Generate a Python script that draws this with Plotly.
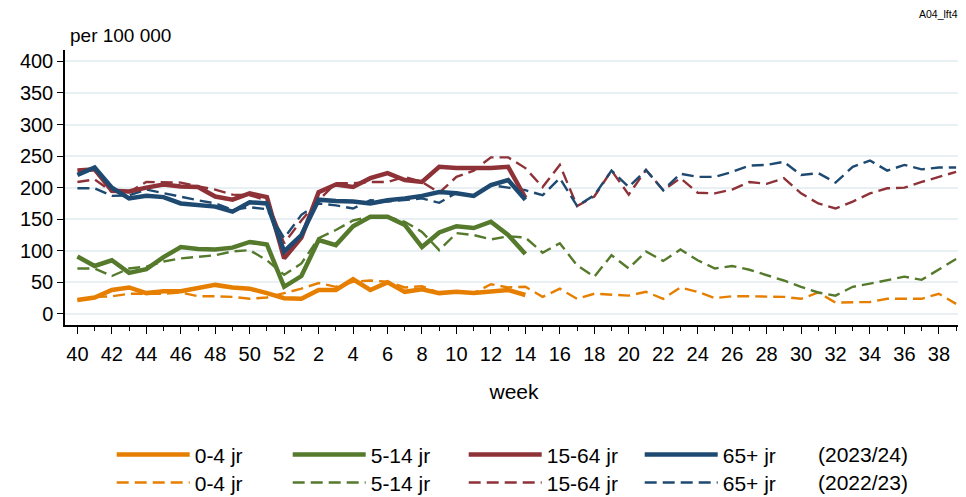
import plotly.graph_objects as go

# weeks 40-52 of the first year, then weeks 1-39
weeks = list(range(40, 53)) + list(range(1, 40))

groups = ['0-4 jr', '5-14 jr', '15-64 jr', '65+ jr']
colors = ['#E67F00', '#557A2C', '#8E3238', '#1E4A72']

# season 2023/24 (week 40 up to week 14)
cur_0_4 = [22, 26, 38, 42, 33, 36, 36, 41, 46, 42, 40, 33, 25, 24, 38, 38, 55, 38,
           50, 35, 39, 33, 35, 33, 35, 38, 30]
cur_5_14 = [91, 76, 85, 65, 71, 90, 106, 103, 102, 105, 114, 110, 43, 60, 117, 109,
            139, 154, 154, 141, 106, 129, 139, 136, 146, 125, 95]
cur_15_64 = [227, 229, 195, 194, 200, 205, 202, 201, 186, 181, 191, 185, 88, 121, 193,
             205, 201, 215, 223, 212, 209, 233, 231, 231, 231, 233, 184]
cur_65 = [220, 232, 200, 183, 187, 185, 175, 172, 170, 162, 177, 175, 99, 125, 181,
          179, 178, 175, 180, 183, 187, 193, 191, 187, 204, 212, 181]

# season 2022/23 (full year)
prev_0_4 = [22, 27, 28, 32, 32, 32, 34, 28, 28, 27, 24, 26, 33, 40,
            49, 43, 51, 53, 51, 42, 44, 33, 34, 33, 47, 42, 43, 27,
            40, 24, 32, 30, 29, 35, 24, 42, 35, 25, 28, 28, 27, 27,
            24, 34, 18, 19, 19, 24, 24, 24, 32, 16]
prev_5_14 = [72, 72, 60, 72, 75, 83, 88, 91, 93, 99, 101, 85, 62, 80,
             120, 133, 148, 154, 154, 146, 130, 101, 128, 125, 118, 123, 121, 97,
             112, 77, 59, 93, 72, 99, 84, 102, 85, 72, 76, 70, 62, 53,
             43, 34, 29, 43, 48, 53, 59, 54, 71, 87]
prev_15_64 = [209, 213, 194, 193, 209, 209, 208, 202, 197, 189, 188, 180, 112, 148,
              180, 207, 207, 209, 209, 217, 209, 192, 217, 227, 248, 248, 231, 201,
              236, 171, 186, 227, 189, 228, 196, 215, 192, 191, 197, 209, 206, 215,
              191, 175, 167, 178, 191, 199, 200, 209, 217, 225]
prev_65 = [199, 199, 187, 188, 197, 191, 186, 180, 175, 165, 169, 166, 120, 157,
           175, 172, 167, 180, 178, 180, 183, 176, 192, 186, 204, 200, 196, 188,
           215, 171, 188, 227, 201, 228, 196, 222, 217, 217, 225, 235, 236, 241,
           220, 223, 208, 233, 243, 227, 236, 229, 232, 232]

current = [cur_0_4, cur_5_14, cur_15_64, cur_65]
previous = [prev_0_4, prev_5_14, prev_15_64, prev_65]

xpos = list(range(len(weeks)))
major = [i for i, w in enumerate(weeks) if w % 2 == 0]
font = 'Liberation Sans, Arial, sans-serif'

fig = go.Figure()

for name, col, vals in zip(groups, colors, previous):
    fig.add_trace(go.Scatter(
        x=xpos[:len(vals)], y=vals, name=name, mode='lines',
        line=dict(color=col, width=2.4, dash='12px,6px'),
        legend='legend2',
    ))

for name, col, vals in zip(groups, colors, current):
    fig.add_trace(go.Scatter(
        x=xpos[:len(vals)], y=vals, name=name, mode='lines',
        line=dict(color=col, width=4.5),
        legend='legend',
    ))

legend_style = dict(
    orientation='h', x=0.052, xanchor='left', yanchor='middle', yref='container',
    font=dict(family=font, size=21, color='#000'),
    itemwidth=73, entrywidth=88, traceorder='normal', bgcolor='rgba(0,0,0,0)',
)

# the page body adds an 8px offset, so the figure is a bit smaller than the window
fig.update_layout(
    width=958, height=489,
    margin=dict(l=57, r=3, t=42, b=172),
    plot_bgcolor='white', paper_bgcolor='white',
    font=dict(family=font, color='#000'),
    legend=dict(y=0.086, **legend_style),
    legend2=dict(y=0.029, **legend_style),
    xaxis=dict(
        range=[-0.72, 51.4],
        tickmode='array', tickvals=major, ticktext=[str(weeks[i]) for i in major],
        ticks='outside', ticklen=7, tickwidth=1.2, tickcolor='#000',
        minor=dict(tickmode='array', tickvals=xpos, ticks='outside', ticklen=4,
                   tickwidth=1.2, tickcolor='#000', showgrid=False),
        showline=True, linecolor='#000', linewidth=1.5,
        showgrid=False, zeroline=False,
        tickfont=dict(size=20), ticklabelstandoff=3,
        title=dict(text='week', font=dict(size=21), standoff=21),
    ),
    yaxis=dict(
        range=[-17.5, 418],
        tickvals=[0, 50, 100, 150, 200, 250, 300, 350, 400],
        ticks='outside', ticklen=6, tickwidth=1.2, tickcolor='#000',
        showline=True, linecolor='#000', linewidth=1.5,
        gridcolor='#E8F0F3', gridwidth=1.6, zeroline=False,
        tickfont=dict(size=20),
    ),
    annotations=[
        dict(text='per 100 000', xref='paper', yref='paper', x=0.003, y=1.0,
             xanchor='left', yanchor='bottom', yshift=2, showarrow=False,
             font=dict(size=19)),
        dict(text='A04_lft4', xref='paper', yref='paper', x=0.997, y=1.0,
             xanchor='right', yanchor='bottom', yshift=28, showarrow=False,
             font=dict(size=10.5)),
        dict(text='(2023/24)', xref='paper', yref='paper', x=0.836, y=-0.4727,
             xanchor='left', yanchor='middle', showarrow=False,
             font=dict(size=21)),
        dict(text='(2022/23)', xref='paper', yref='paper', x=0.836, y=-0.5745,
             xanchor='left', yanchor='middle', showarrow=False,
             font=dict(size=21)),
    ],
)

fig.write_html('out.html')
